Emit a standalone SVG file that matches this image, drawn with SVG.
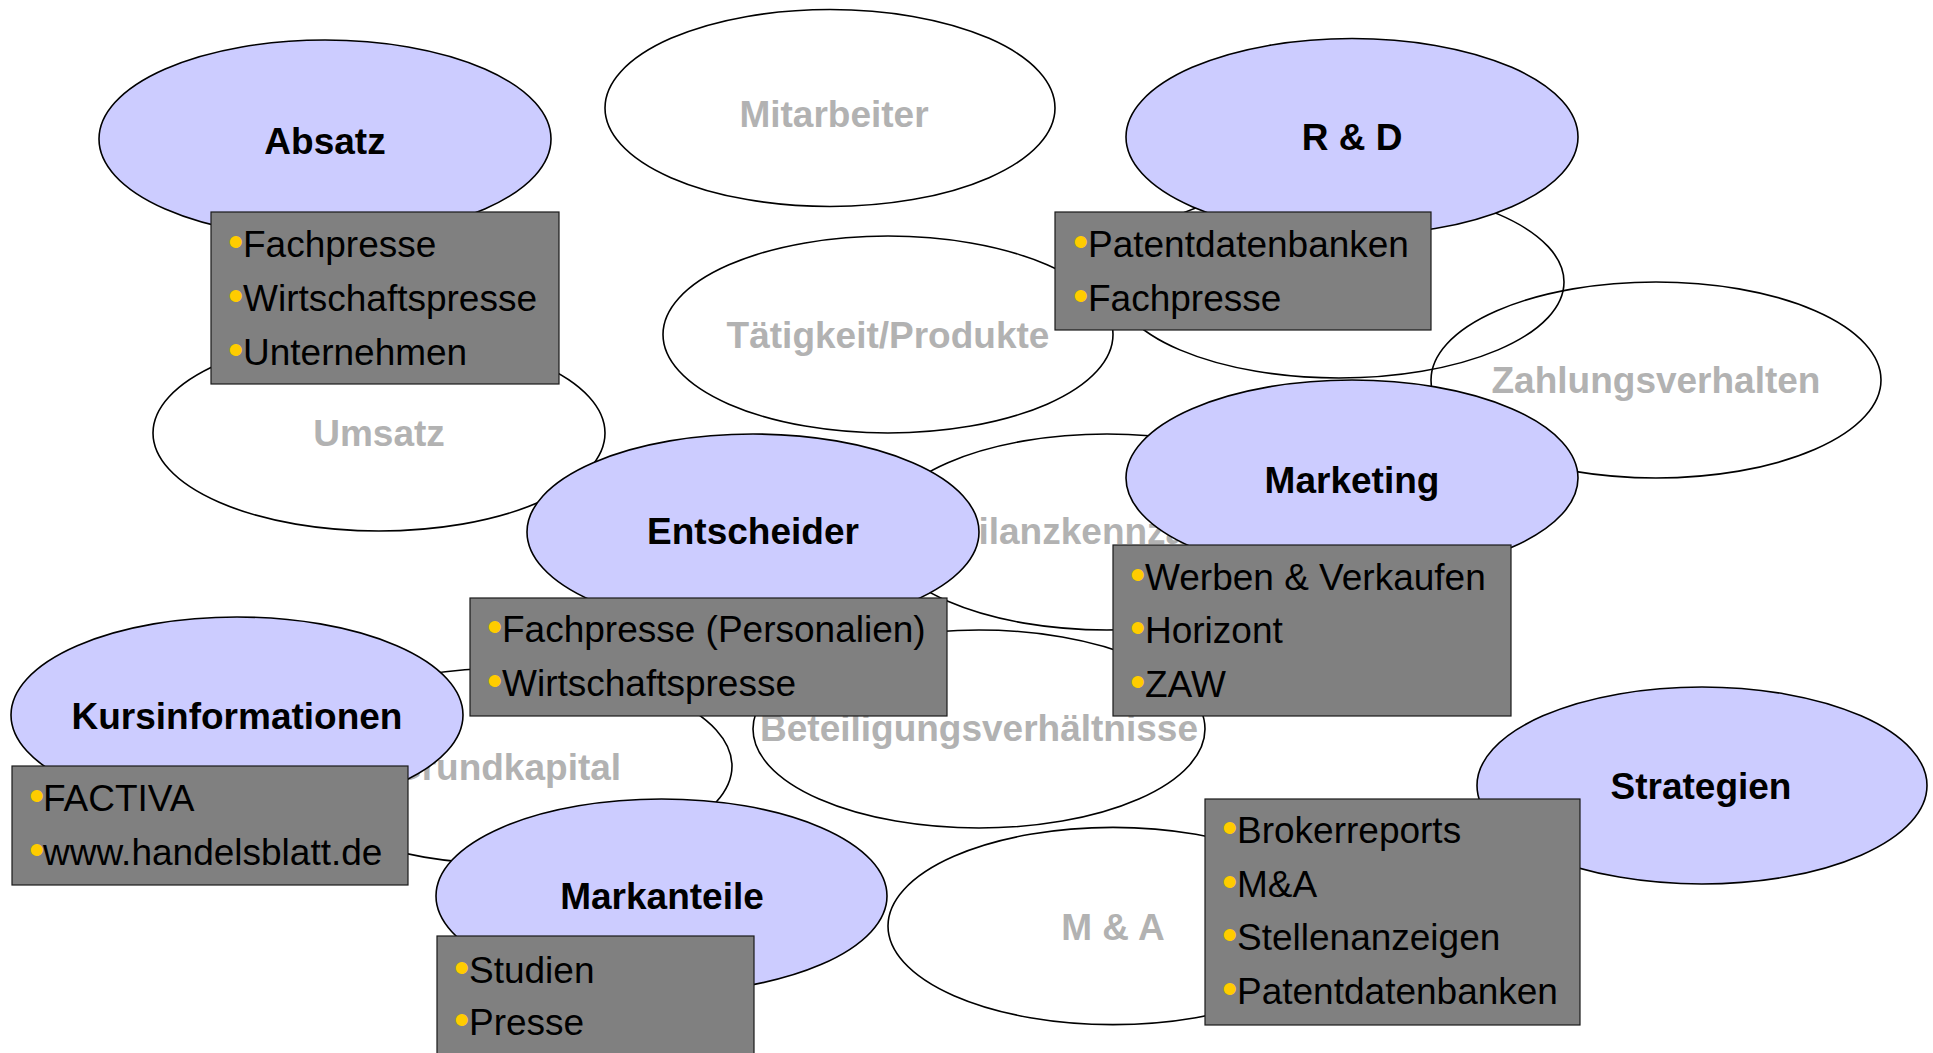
<svg xmlns="http://www.w3.org/2000/svg" width="1933" height="1053" viewBox="0 0 1933 1053">
<style>
.bg{fill:#FFFFFF}
.we{fill:none;stroke:#000;stroke-width:1.6}
.be{fill:#CCCCFF;stroke:#000;stroke-width:1.6}
.bx{fill:#808080;stroke:#1A1A1A;stroke-width:1.2}
.hd{font-family:"Liberation Sans",Arial,sans-serif;font-weight:bold;font-size:37px;fill:#000;text-anchor:middle}
.gl{font-family:"Liberation Sans",Arial,sans-serif;font-weight:bold;font-size:37px;fill:#B2B2B2;text-anchor:middle}
.it{font-family:"Liberation Sans",Arial,sans-serif;font-size:37px;fill:#000}
.b{fill:#FFCC00;font-size:44px}
</style>
<rect class="bg" x="0" y="0" width="1933" height="1053"/>

<!-- background (white) nodes -->
<g id="mitarbeiter"><ellipse class="we" cx="830" cy="108" rx="225" ry="98.5"/><text class="gl" x="834" y="127">Mitarbeiter</text></g>
<g id="taetigkeit"><ellipse class="we" cx="888" cy="334.5" rx="225" ry="98.5"/><text class="gl" x="888" y="348">Tätigkeit/Produkte</text></g>
<g id="verdeckt"><ellipse class="we" cx="1339" cy="282" rx="225" ry="96"/></g>
<g id="zahlungsverhalten"><ellipse class="we" cx="1656" cy="380" rx="225" ry="98"/><text class="gl" x="1656" y="393">Zahlungsverhalten</text></g>
<g id="umsatz"><ellipse class="we" cx="379" cy="433" rx="226" ry="98"/><text class="gl" x="379" y="446">Umsatz</text></g>
<g id="bilanzkennzahlen"><ellipse class="we" cx="1107" cy="532" rx="225" ry="98"/><text class="gl" x="1107" y="544">Bilanzkennzahlen</text></g>
<g id="beteiligung"><ellipse class="we" cx="979" cy="729" rx="226" ry="99"/><text class="gl" x="979" y="741">Beteiligungsverhältnisse</text></g>
<g id="grundkapital"><ellipse class="we" cx="507" cy="766" rx="225" ry="98"/><text class="gl" x="507" y="780">Grundkapital</text></g>
<g id="ma"><ellipse class="we" cx="1113" cy="926" rx="225" ry="98.6"/><text class="gl" x="1113" y="940">M &amp; A</text></g>

<g id="connectors"></g>

<!-- foreground (blue) nodes with source boxes -->
<g id="absatz">
<ellipse class="be" cx="325" cy="139" rx="226" ry="99"/>
<text class="hd" x="325" y="154">Absatz</text>
<rect class="bx" x="211" y="212" width="348" height="172"/>
<text class="it" y="257"><tspan class="b" x="228">•</tspan><tspan x="243">Fachpresse</tspan></text>
<text class="it" y="311"><tspan class="b" x="228">•</tspan><tspan x="243">Wirtschaftspresse</tspan></text>
<text class="it" y="365"><tspan class="b" x="228">•</tspan><tspan x="243">Unternehmen</tspan></text>
</g>

<g id="rd">
<ellipse class="be" cx="1352" cy="137" rx="226" ry="98.5"/>
<text class="hd" x="1352" y="150">R &amp; D</text>
<rect class="bx" x="1055" y="212" width="376" height="118"/>
<text class="it" y="257"><tspan class="b" x="1073">•</tspan><tspan x="1088">Patentdatenbanken</tspan></text>
<text class="it" y="311"><tspan class="b" x="1073">•</tspan><tspan x="1088">Fachpresse</tspan></text>
</g>

<g id="marketing">
<ellipse class="be" cx="1352" cy="478" rx="226" ry="98"/>
<text class="hd" x="1352" y="493">Marketing</text>
<rect class="bx" x="1113" y="545" width="398" height="171"/>
<text class="it" y="590"><tspan class="b" x="1130">•</tspan><tspan x="1145">Werben &amp; Verkaufen</tspan></text>
<text class="it" y="643"><tspan class="b" x="1130">•</tspan><tspan x="1145">Horizont</tspan></text>
<text class="it" y="697"><tspan class="b" x="1130">•</tspan><tspan x="1145">ZAW</tspan></text>
</g>

<g id="entscheider">
<ellipse class="be" cx="753" cy="532" rx="226" ry="98"/>
<text class="hd" x="753" y="544">Entscheider</text>
<rect class="bx" x="470" y="598" width="477" height="118"/>
<text class="it" y="642"><tspan class="b" x="487">•</tspan><tspan x="502">Fachpresse (Personalien)</tspan></text>
<text class="it" y="696"><tspan class="b" x="487">•</tspan><tspan x="502">Wirtschaftspresse</tspan></text>
</g>

<g id="kursinformationen">
<ellipse class="be" cx="237" cy="715" rx="226" ry="98"/>
<text class="hd" x="237" y="729">Kursinformationen</text>
<rect class="bx" x="12" y="766" width="396" height="119"/>
<text class="it" y="811"><tspan class="b" x="29">•</tspan><tspan x="43">FACTIVA</tspan></text>
<text class="it" y="865"><tspan class="b" x="29">•</tspan><tspan x="43">www.handelsblatt.de</tspan></text>
</g>

<g id="markanteile">
<ellipse class="be" cx="661.5" cy="896" rx="225.5" ry="97"/>
<text class="hd" x="662" y="909">Markanteile</text>
<rect class="bx" x="437" y="936" width="317" height="130"/>
<text class="it" y="983"><tspan class="b" x="454">•</tspan><tspan x="469">Studien</tspan></text>
<text class="it" y="1035"><tspan class="b" x="454">•</tspan><tspan x="469">Presse</tspan></text>
</g>

<g id="strategien">
<ellipse class="be" cx="1702" cy="785.5" rx="225" ry="98.5"/>
<text class="hd" x="1701" y="799">Strategien</text>
<rect class="bx" x="1205" y="799" width="375" height="226"/>
<text class="it" y="843"><tspan class="b" x="1222">•</tspan><tspan x="1237">Brokerreports</tspan></text>
<text class="it" y="897"><tspan class="b" x="1222">•</tspan><tspan x="1237">M&amp;A</tspan></text>
<text class="it" y="950"><tspan class="b" x="1222">•</tspan><tspan x="1237">Stellenanzeigen</tspan></text>
<text class="it" y="1004"><tspan class="b" x="1222">•</tspan><tspan x="1237">Patentdatenbanken</tspan></text>
</g>
</svg>
